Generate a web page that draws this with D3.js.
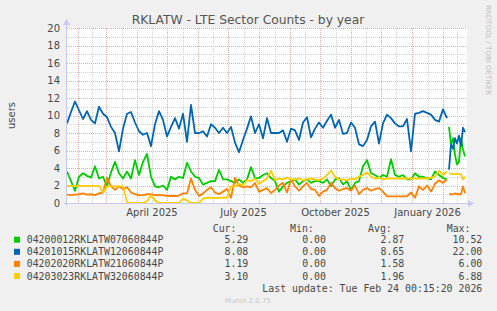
<!DOCTYPE html>
<html>
<head>
<meta charset="utf-8">
<script src="https://cdn.jsdelivr.net/npm/d3@7"></script>
<style>
  html, body { margin: 0; padding: 0; background: #f0f0f0; }
  svg { display: block; }
</style>
</head>
<body>
<svg id="chart" width="497" height="311"></svg>
<script>
// legend rows
const seriesNames = [
  "04200012RKLATW07060844P",
  "04201015RKLATW12060844P",
  "04202020RKLATW21060844P",
  "04203023RKLATW32060844P"
];
const seriesColors = ["#00cc00", "#0066b3", "#ff8000", "#ffcc00"];
const curValues = ["5.29", "8.08", "1.19", "3.10"];
const minValues = ["0.00", "0.00", "0.00", "0.00"];
const avgValues = ["2.87", "8.65", "1.58", "1.96"];
const maxValues = ["10.52", "22.00", "6.00", "6.88"];

const yTickValues = [0, 2, 4, 6, 8, 10, 12, 14, 16, 18, 20];
const xTickLabels = ["April 2025", "July 2025", "October 2025", "January 2026"];
const xTickMonths = [[2025, 3], [2025, 6], [2025, 9], [2026, 0]];

// samples: main part every 4 days from start, tail every 2 days after the gap
const mainStep = 4;
const tailStart = 382;
const tailStep = 2;

const greenMain = [
  3.6, 2.5, 1.4, 3.0, 3.4, 3.1, 2.9, 4.2, 2.8, 3.0, 1.9, 3.5, 4.7, 3.4, 2.8, 3.6, 2.8, 4.9, 3.2, 4.7,
  5.6, 3.0, 1.9, 1.8, 2.0, 1.5, 3.0, 2.7, 3.0, 2.85, 4.6, 3.6, 3.0, 2.85, 2.1, 2.3, 2.5, 2.5, 3.8, 2.7,
  2.7, 2.5, 2.3, 2.7, 2.3, 2.7, 4.1, 2.85, 2.85, 3.2, 3.4, 2.85, 2.5, 1.3, 1.9, 2.3, 2.5, 2.7, 2.1, 2.5,
  2.7, 2.3, 2.5, 2.5, 2.3, 2.7, 1.9, 2.7, 2.85, 2.1, 2.5, 1.5, 2.3, 2.5, 4.2, 4.9, 3.4, 3.2, 2.85, 3.2,
  3.0, 5.0, 3.2, 3.0, 3.2, 2.7, 2.7, 3.4, 3.0, 3.0, 2.85, 2.7, 3.6, 3.2, 2.85, 2.7
];
const greenTail = [8.7, 6.7, 7.4, 5.5, 4.4, 4.75, 7.4, 6.1, 5.3];

const blueMain = [
  9.1, 10.4, 11.6, 10.6, 9.6, 10.5, 9.5, 9.1, 11.0, 10.2, 9.8, 8.7, 8.0, 5.9, 8.5, 10.2, 10.4, 9.2, 8.2, 7.8,
  8.0, 6.5, 9.0, 10.5, 9.5, 7.6, 8.7, 9.7, 8.5, 10.2, 7.0, 11.2, 8.0, 8.0, 8.2, 7.6, 9.0, 8.6, 8.0, 8.6,
  8.0, 8.7, 6.9, 5.8, 7.2, 8.5, 9.9, 8.0, 9.0, 7.4, 9.7, 8.0, 8.0, 8.0, 8.3, 7.0, 8.5, 8.3, 7.2, 9.2,
  9.8, 7.5, 8.5, 9.2, 8.6, 9.4, 10.1, 8.6, 9.5, 7.9, 8.0, 9.2, 8.6, 6.7, 6.5, 7.2, 8.75, 9.3, 6.8, 9.1,
  10.1, 9.7, 9.1, 8.75, 8.75, 9.6, 5.9, 10.2, 10.3, 10.5, 10.3, 10.1, 9.5, 9.3, 10.7, 9.7
];
const blueTail = [3.8, 6.7, 6.2, 7.4, 6.8, 7.7, 6.5, 8.6, 8.1];

const orangeMain = [
  0.95, 0.9, 0.95, 1.0, 1.1, 0.95, 1.0, 0.9, 1.1, 1.2, 2.9, 1.9, 1.5, 1.9, 1.6, 1.8, 1.2, 1.0, 0.9, 0.9,
  1.0, 1.0, 0.9, 0.9, 0.9, 0.8, 0.8, 0.8, 0.85, 1.1, 1.1, 2.8, 1.5, 0.8, 1.1, 1.5, 1.8, 1.2, 1.0, 1.3,
  1.6, 0.6, 2.9, 2.0, 1.8, 1.9, 1.8, 2.3, 1.3, 1.5, 1.7, 1.14, 1.5, 2.0, 2.3, 1.2, 2.7, 1.9, 1.4, 1.9,
  2.3, 1.6, 1.5, 0.8, 1.3, 1.5, 2.3, 1.7, 1.4, 1.6, 1.7, 1.4, 2.0, 1.0, 1.5, 1.7, 1.4, 1.6, 1.7, 1.3,
  0.75, 0.75, 0.75, 0.75, 0.75, 0.75, 1.2, 0.6, 1.9, 1.5, 2.0, 1.3, 2.2, 2.6, 2.3, 2.7
];
const orangeTail = [1.0, 1.0, 1.0, 1.1, 1.0, 1.0, 1.0, 1.9, 1.1];

const yellowMain = [
  1.95, 1.95, 1.95, 1.95, 1.95, 1.95, 1.95, 1.95, 1.95, 1.2, 1.9, 1.9, 1.9, 1.9, 1.9, 0.1, 0, 0, 0, 0,
  0.2, 0.9, 0.3, 0, 0, 0, 0, 0, 0, 0.5, 0.3, 0, 0, 0, 0.5, 0.6, 0.6, 0.55, 0.6, 0.6,
  0.6, 1.9, 1.9, 2.2, 2.0, 2.6, 2.5, 2.8, 2.2, 2.5, 2.8, 3.7, 2.6, 2.8, 2.7, 2.9, 2.7, 2.7, 2.8, 2.6,
  2.7, 2.8, 2.7, 2.6, 2.8, 3.2, 3.7, 3.0, 2.7, 2.7, 2.6, 2.8, 2.7, 3.0, 3.2, 3.5, 3.0, 2.8, 2.9, 2.7,
  2.8, 2.8, 2.8, 2.8, 2.8, 2.8, 2.8, 2.8, 2.8, 2.8, 2.8, 2.9, 3.0, 3.7, 3.2, 3.6
];
const yellowTail = [3.4, 3.3, 3.3, 3.3, 3.3, 3.3, 3.3, 2.7, 3.0];

const seriesMain = [greenMain, blueMain, orangeMain, yellowMain];
const seriesTail = [greenTail, blueTail, orangeTail, yellowTail];

const plot = { left: 67, right: 467, top: 28, bottom: 203 };
const axisColor = "#c8c8f0";
const textColor = "#484848";
const majorGrid = "#e8a8a8";
const minorGrid = "#d0d0d0";

const t0 = new Date(Date.UTC(2025, 0, 21));
const t1 = new Date(Date.UTC(2026, 1, 25));

const x = d3.scaleUtc().domain([t0, t1]).range([plot.left, plot.right]);
const y = d3.scaleLinear().domain([0, 20]).range([plot.bottom, plot.top]);

const svg = d3.select("#chart");

svg.append("rect")
  .attr("width", 497).attr("height", 311)
  .attr("fill", "#f0f0f0");

svg.append("rect")
  .attr("x", plot.left).attr("y", plot.top)
  .attr("width", plot.right - plot.left).attr("height", plot.bottom - plot.top)
  .attr("fill", "#ffffff");

const grid = svg.append("g").attr("shape-rendering", "crispEdges");

function hLine(v, color) {
  const py = Math.round(y(v)) + 0.5;
  grid.append("line")
    .attr("x1", plot.left).attr("x2", plot.right)
    .attr("y1", py).attr("y2", py)
    .attr("stroke", color).attr("stroke-dasharray", "1,1");
}

function vLine(d, color) {
  const px = Math.round(x(d)) + 0.5;
  grid.append("line")
    .attr("x1", px).attr("x2", px)
    .attr("y1", plot.top).attr("y2", plot.bottom)
    .attr("stroke", color).attr("stroke-dasharray", "1,1");
}

// month starts (major) and mid-months (minor)
const monthStarts = d3.utcMonth.range(d3.utcMonth.ceil(t0), t1);
const midMonths = d3.utcMonth.range(d3.utcMonth.floor(t0), t1).map(m => {
  const next = d3.utcMonth.offset(m, 1);
  return new Date((m.getTime() + next.getTime()) / 2);
}).filter(d => d > t0 && d < t1);

d3.range(1, 20, 2).forEach(v => hLine(v, minorGrid));
midMonths.forEach(d => vLine(d, minorGrid));
yTickValues.filter(v => v > 0).forEach(v => hLine(v, majorGrid));
monthStarts.forEach(d => vLine(d, majorGrid));

// series lines
const line = d3.line()
  .x(d => x(d.date))
  .y(d => y(d.v));

seriesMain.forEach((values, i) => {
  const mainPts = values.map((v, k) => ({ date: d3.utcDay.offset(t0, k * mainStep), v }));
  const tailPts = seriesTail[i].map((v, k) => ({ date: d3.utcDay.offset(t0, tailStart + k * tailStep), v }));
  [mainPts, tailPts].forEach(pts => {
    svg.append("path")
      .datum(pts)
      .attr("d", line)
      .attr("fill", "none")
      .attr("stroke", seriesColors[i])
      .attr("stroke-width", 1.8)
      .attr("stroke-linejoin", "round");
  });
});

// axes
svg.append("line")
  .attr("x1", plot.left - 0.5).attr("x2", plot.left - 0.5)
  .attr("y1", plot.bottom + 3).attr("y2", plot.top - 5)
  .attr("stroke", axisColor);
svg.append("path")
  .attr("d", `M${plot.left - 4},${plot.top - 3} L${plot.left - 0.5},${plot.top - 9} L${plot.left + 3},${plot.top - 3} Z`)
  .attr("fill", axisColor);

svg.append("line")
  .attr("x1", plot.left - 3).attr("x2", plot.right + 2)
  .attr("y1", plot.bottom + 0.5).attr("y2", plot.bottom + 0.5)
  .attr("stroke", axisColor);
svg.append("path")
  .attr("d", `M${plot.right + 1},${plot.bottom - 3} L${plot.right + 7},${plot.bottom + 0.5} L${plot.right + 1},${plot.bottom + 4} Z`)
  .attr("fill", axisColor);

// y tick labels
svg.append("g")
  .selectAll("text")
  .data(yTickValues)
  .join("text")
  .attr("x", 60)
  .attr("y", d => y(d) + 3.6)
  .attr("text-anchor", "end")
  .attr("font-family", "DejaVu Sans")
  .attr("font-size", 10)
  .attr("fill", textColor)
  .text(d => d);

// x tick labels centred on the middle of the quarter's first month
svg.append("g")
  .selectAll("text")
  .data(xTickLabels)
  .join("text")
  .attr("x", (d, i) => {
    const m = new Date(Date.UTC(xTickMonths[i][0], xTickMonths[i][1], 1));
    const next = d3.utcMonth.offset(m, 1);
    return x(new Date((m.getTime() + next.getTime()) / 2));
  })
  .attr("y", 216)
  .attr("text-anchor", "middle")
  .attr("font-family", "DejaVu Sans")
  .attr("font-size", 10)
  .attr("fill", textColor)
  .text(d => d);

// title
svg.append("text")
  .attr("x", 248).attr("y", 24)
  .attr("text-anchor", "middle")
  .attr("font-family", "DejaVu Sans")
  .attr("font-size", 12.3)
  .attr("fill", "#555")
  .text("RKLATW - LTE Sector Counts - by year");

// vertical label
svg.append("text")
  .attr("transform", `translate(15,${(plot.top + plot.bottom) / 2}) rotate(-90)`)
  .attr("text-anchor", "middle")
  .attr("font-family", "DejaVu Sans")
  .attr("font-size", 10)
  .attr("fill", textColor)
  .text("users");

svg.append("text")
  .attr("transform", "translate(486,5) rotate(90)")
  .attr("text-anchor", "start")
  .attr("font-family", "DejaVu Sans")
  .attr("font-size", 7)
  .attr("fill", "#c0c0c0")
  .text("RRDTOOL / TOBI OETIKER");

// legend
const legend = svg.append("g")
  .attr("font-family", "DejaVu Sans Mono")
  .attr("font-size", 9.9)
  .attr("fill", textColor);

const headerY = 231.5;
const rowY = [243.2, 255.3, 267.4, 279.5];
const headX = [212.7, 290, 368, 446.7];
const colRight = [248.3, 326, 404.3, 482.3];

["Cur:", "Min:", "Avg:", "Max:"].forEach((h, j) => {
  legend.append("text").attr("x", headX[j]).attr("y", headerY).text(h);
});

seriesNames.forEach((name, i) => {
  legend.append("rect")
    .attr("x", 14).attr("y", rowY[i] - 6.5)
    .attr("width", 6).attr("height", 6)
    .attr("fill", seriesColors[i]);
  legend.append("text").attr("x", 26.7).attr("y", rowY[i]).text(name);
  [curValues, minValues, avgValues, maxValues].forEach((col, j) => {
    legend.append("text")
      .attr("x", colRight[j]).attr("y", rowY[i])
      .attr("text-anchor", "end")
      .text(col[i]);
  });
});

legend.append("text")
  .attr("x", 482.3).attr("y", 291.5)
  .attr("text-anchor", "end")
  .text("Last update: Tue Feb 24 00:15:20 2026");

svg.append("text")
  .attr("x", 248).attr("y", 302.5)
  .attr("text-anchor", "middle")
  .attr("font-family", "DejaVu Sans")
  .attr("font-size", 7)
  .attr("fill", "#c8c8c8")
  .text("Munin 2.0.75");
</script>
</body>
</html>
